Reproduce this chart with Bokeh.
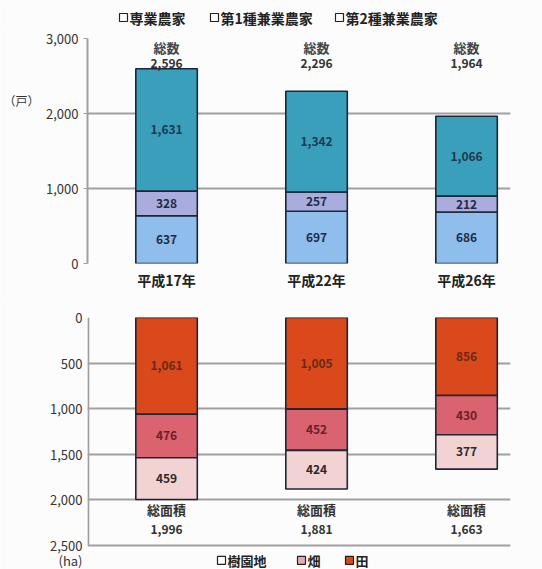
from bokeh.plotting import figure
from bokeh.models import ColumnDataSource, Range1d, FixedTicker, NumeralTickFormatter, LinearAxis
from bokeh.layouts import column
from bokeh.embed import file_html
from bokeh.resources import INLINE
from bokeh.core.properties import value

# ---------------- data ----------------
years = ["平成17年", "平成22年", "平成26年"]
hh_series = ["専業農家", "第1種兼業農家", "第2種兼業農家"]
senkyo = [637, 697, 686]          # 専業農家
kengyo1 = [328, 257, 212]         # 第1種兼業農家
kengyo2 = [1631, 1342, 1066]      # 第2種兼業農家
hh_total = [2596, 2296, 1964]     # 総数
hh_ticks = [0, 1000, 2000, 3000]
hh_unit = "（戸）"

area_series = ["樹園地", "畑", "田"]
ta = [1061, 1005, 856]            # 田
hatake = [476, 452, 430]          # 畑
juenchi = [459, 424, 377]         # 樹園地
area_total = [1996, 1881, 1663]   # 総面積
area_ticks = [0, 500, 1000, 1500, 2000, 2500]
area_unit = "(ha)"

FONT = "Noto Sans CJK JP"
BG = "#fcfcfc"
GRID = "#a0a0a0"
EDGE = "#1c2636"
BAR_W = 0.41
xs = list(range(len(years)))
XR = (-0.527, 2.293)
LEFT, RIGHT, W = 87, 32, 542


def px2x(px):
    # page pixel column -> data x of the chart frames (frame spans LEFT .. W-RIGHT)
    return XR[0] + (px - LEFT) / (W - RIGHT - LEFT) * (XR[1] - XR[0])


def strip(h):
    f = figure(width=W, height=h, x_range=Range1d(*XR), y_range=Range1d(h, 0),
               output_backend="svg", toolbar_location=None,
               x_axis_location=None, y_axis_location=None,
               min_border_left=LEFT, min_border_right=RIGHT,
               min_border_top=0, min_border_bottom=0)
    f.grid.visible = False
    f.outline_line_color = None
    f.background_fill_color = BG
    f.border_fill_color = BG
    return f


def base_fig(height, y_range, top, bottom):
    p = figure(width=W, height=height, x_range=Range1d(*XR), y_range=y_range,
               output_backend="svg", toolbar_location=None,
               min_border_left=LEFT, min_border_right=RIGHT,
               min_border_top=top, min_border_bottom=bottom)
    p.outline_line_color = None
    p.background_fill_color = BG
    p.border_fill_color = BG
    p.xgrid.grid_line_color = None
    p.ygrid.grid_line_color = GRID
    p.ygrid.grid_line_width = 2
    p.yaxis.axis_line_color = GRID
    p.yaxis.axis_line_width = 2
    p.yaxis.major_tick_line_color = GRID
    p.yaxis.major_tick_in = 0
    p.yaxis.major_tick_out = 4
    p.yaxis.minor_tick_line_color = None
    p.yaxis.formatter = NumeralTickFormatter(format="0,0")
    p.yaxis.major_label_text_font = FONT
    p.yaxis.major_label_text_font_size = "13px"
    p.yaxis.major_label_text_color = "#333333"
    p.yaxis.major_label_standoff = 5
    return p


def unit_axis(tick, text, standoff):
    ax = LinearAxis(ticker=FixedTicker(ticks=[tick]), major_label_overrides={tick: text})
    ax.axis_line_color = None
    ax.major_tick_line_color = None
    ax.major_tick_in = 0
    ax.major_tick_out = 0
    ax.minor_tick_line_color = None
    ax.major_label_standoff = standoff
    ax.major_label_text_font = FONT
    ax.major_label_text_font_size = "12px"
    ax.major_label_text_color = "#333333"
    return ax


def stack(p, layers, colors, label_colors):
    bottom = [0] * len(xs)
    for vals, col, lc in zip(layers, colors, label_colors):
        top = [b + v for b, v in zip(bottom, vals)]
        src = ColumnDataSource(dict(x=xs, bottom=bottom, top=top,
                                    mid=[(b + t) / 2 for b, t in zip(bottom, top)],
                                    txt=[f"{v:,}" for v in vals]))
        p.vbar(x="x", width=BAR_W, bottom="bottom", top="top", source=src,
               fill_color=col, line_color=EDGE, line_width=1.6)
        p.text(x="x", y="mid", text="txt", source=src, text_align="center", text_baseline="middle",
               text_font=value(FONT), text_font_size="12px", text_font_style="bold", text_color=lc)
        bottom = top


def legend(f, y, entries, size):
    for px, fill, name in entries:
        f.scatter([px2x(px)], [y], marker="square", size=8, fill_color=fill,
                  line_color="#222222", line_width=1.2)
        f.text([px2x(px + 6)], [y], text=[name], text_align="left", text_baseline="middle",
               text_font=value(FONT), text_font_size=size, text_font_style="bold",
               text_color="#222222")


# ---------------- header (legend of households) ----------------
header = strip(28)
legend(header, 17, [(123, "white", hh_series[0]),
                    (214, "white", hh_series[1]),
                    (339, "white", hh_series[2])], "14px")

# ---------------- top chart: households ----------------
p1 = base_fig(275, Range1d(0, 3000), 10, 40)
p1.ygrid.ticker = FixedTicker(ticks=hh_ticks)
p1.yaxis.ticker = FixedTicker(ticks=hh_ticks)
p1.xaxis.ticker = FixedTicker(ticks=xs)
p1.xaxis.major_label_overrides = {i: y for i, y in zip(xs, years)}
p1.xaxis.axis_line_color = None
p1.xaxis.major_tick_line_color = None
p1.xaxis.major_tick_out = 0
p1.xaxis.major_tick_in = 0
p1.xaxis.minor_tick_line_color = None
p1.xaxis.major_label_text_font = FONT
p1.xaxis.major_label_text_font_size = "14px"
p1.xaxis.major_label_text_font_style = "bold"
p1.xaxis.major_label_text_color = "#222222"
p1.xaxis.major_label_standoff = 6
p1.add_layout(unit_axis(2170, hh_unit, 4), "left")

stack(p1, [senkyo, kengyo1, kengyo2], ["#8fbdec", "#a9acdc", "#3a9fbb"],
      ["#1f2b48", "#1f2b48", "#1f3a50"])

tot_src = ColumnDataSource(dict(x=xs, txt=[f"{v:,}" for v in hh_total], lab=["総数"] * len(xs)))
p1.text(x="x", y=2880, text="lab", source=tot_src, text_align="center", text_baseline="middle",
        text_font=value(FONT), text_font_size="13px", text_font_style="bold", text_color="#444444")
p1.text(x="x", y=2667, text="txt", source=tot_src, text_align="center", text_baseline="middle",
        text_font=value(FONT), text_font_size="12px", text_font_style="bold", text_color="#333333")

# ---------------- bottom chart: area (frame reaches the page bottom; legend sits below 2,500) ----------------
AREA_MAX = area_ticks[-1]
LEG_Y = 2664
p2 = base_fig(266, Range1d(2763, 0), 14, 0)
p2.ygrid.ticker = FixedTicker(ticks=area_ticks)
p2.yaxis.ticker = FixedTicker(ticks=area_ticks + [LEG_Y])
p2.yaxis.major_label_overrides = {LEG_Y: area_unit}
p2.yaxis.major_tick_out = 0
p2.yaxis.axis_line_color = None
p2.xaxis.visible = False
# axis line only over the value span 0 .. 2,500
p2.segment(x0=[px2x(LEFT + 0.8)], y0=[0], x1=[px2x(LEFT + 0.8)], y1=[AREA_MAX],
           line_color=GRID, line_width=2)

stack(p2, [ta, hatake, juenchi], ["#d9491c", "#d9636f", "#f2d2d2"],
      ["#6a2a14", "#6a1f2a", "#2a2a2a"])

area_src = ColumnDataSource(dict(x=xs, txt=[f"{v:,}" for v in area_total], lab=["総面積"] * len(xs)))
p2.text(x="x", y=2110, text="lab", source=area_src, text_align="center", text_baseline="middle",
        text_font=value(FONT), text_font_size="13px", text_font_style="bold", text_color="#333333")
p2.text(x="x", y=2320, text="txt", source=area_src, text_align="center", text_baseline="middle",
        text_font=value(FONT), text_font_size="12px", text_font_style="bold", text_color="#333333")

legend(p2, LEG_Y, [(221, "white", area_series[0]),
                   (301, "#e8aab2", area_series[1]),
                   (349, "#d9491c", area_series[2])], "13px")

layout = column(header, p1, p2, spacing=0)
open("out.html", "w").write(file_html(layout, INLINE))
